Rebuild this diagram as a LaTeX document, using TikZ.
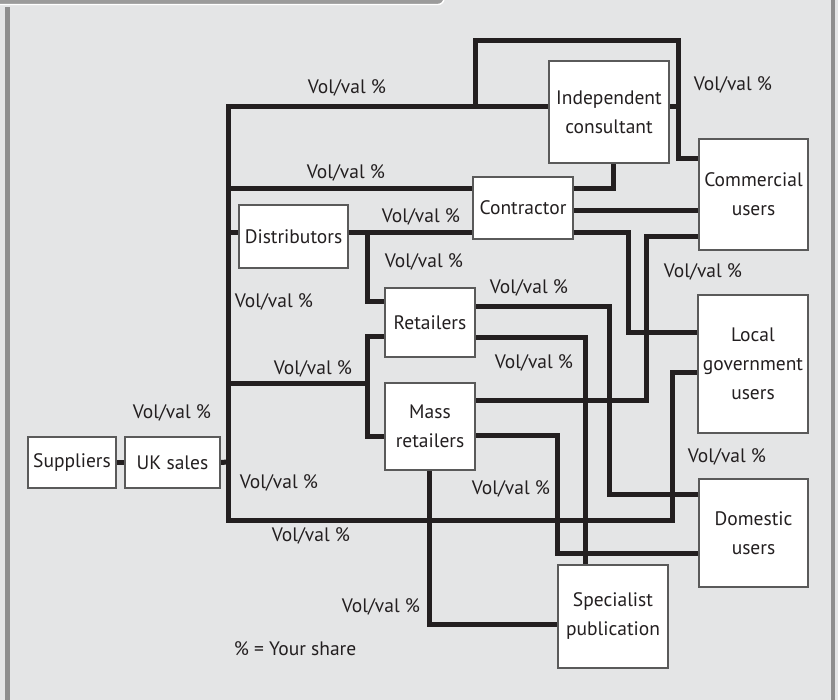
\documentclass[tikz,border=0pt]{standalone}
\usepackage{fontspec}
\setmainfont{PT Sans}
\usetikzlibrary{backgrounds}
\pgfdeclarelayer{back}
\pgfdeclarelayer{wires}
\pgfsetlayers{back,wires,main}
\definecolor{panel}{HTML}{E4E5E6}
\definecolor{rim}{HTML}{8E8E8E}
\definecolor{tabgray}{HTML}{9B9B9B}
\definecolor{ink}{HTML}{231F20}
\definecolor{boxline}{HTML}{5A5A5A}
\tikzset{
  unit/.style={draw=boxline, line width=1.1pt, fill=white, inner sep=0pt,
    align=center, font=\fontsize{19.5}{29}\selectfont, text=ink},
  wire/.style={draw=ink, line width=5pt, line join=miter},
  share/.style={font=\fontsize{19.5}{22}\selectfont, text=ink, inner sep=0pt}
}
\begin{document}
\begin{tikzpicture}[x=1pt,y=-1pt]
\useasboundingbox (0,0) rectangle (838,700);
% panel and frame
\begin{pgfonlayer}{back}
  \fill[panel] (0,0) rectangle (838,700);
  \fill[rim] (5,7) rectangle (10,700);
  \fill[rim] (831,0) rectangle (835,700);
  \draw[white, line width=1.4pt, fill=tabgray, rounded corners=6pt] (-10,-10) rectangle (444,4.5);
\end{pgfonlayer}

% boxes
\node[unit, minimum width=88pt, minimum height=51pt] (sup) at (72,462.5) {Suppliers};
\node[unit, minimum width=95pt, minimum height=51pt] (uk) at (172.5,462.5) {UK sales};
\node[unit, minimum width=120pt, minimum height=102pt] (ind) at (609,112) {Independent\\consultant};
\node[unit, minimum width=100pt, minimum height=62pt] (con) at (523,208) {Contractor};
\node[unit, minimum width=109pt, minimum height=63pt] (dis) at (293.5,236.5) {Distributors};
\node[unit, minimum width=90pt, minimum height=69pt] (ret) at (430,322.5) {Retailers};
\node[unit, minimum width=90pt, minimum height=87pt] (mass) at (430,426.5) {Mass\\retailers};
\node[unit, minimum width=109pt, minimum height=111pt] (com) at (753.5,194.5) {Commercial\\users};
\node[unit, minimum width=110pt, minimum height=138pt] (loc) at (753,364) {Local\\government\\users};
\node[unit, minimum width=109pt, minimum height=108pt] (dom) at (753.5,533) {Domestic\\users};
\node[unit, minimum width=110pt, minimum height=103pt] (spec) at (613,616.5) {Specialist\\publication};

% junction points of the routing
\coordinate (tk) at (228,462);

\begin{pgfonlayer}{wires}
  \draw[wire] (sup.east) -- (uk.west);
  \draw[wire] (uk.east) -- (tk);
  % main trunk: consultant at top, local government at bottom
  \draw[wire] (ind.west |- 0,107) -- (tk |- 0,107) -- (tk |- 0,520) -- (672,520) -- (672,373) -- (loc.west |- 0,373);
  \draw[wire] (475,107) -- (475,41) -- (678,41) -- (678,159) -- (com.west |- 0,159);
  \draw[wire] (ind.east |- 0,107) -- (678,107);
  % contractor
  \draw[wire] (tk |- 0,189) -- (con.west |- 0,189);
  \draw[wire] (ind.south -| 613,0) -- (613,189) -- (con.east |- 0,189);
  \draw[wire] (con.east |- 0,211) -- (com.west |- 0,211);
  \draw[wire] (con.east |- 0,233) -- (628,233) -- (628,333) -- (loc.west |- 0,333);
  % distributors
  \draw[wire] (tk |- 0,233) -- (dis.west |- 0,233);
  \draw[wire] (dis.east |- 0,233) -- (con.west |- 0,233);
  \draw[wire] (367,233) -- (367,302) -- (ret.west |- 0,302);
  % retailers and mass retailers
  \draw[wire] (tk |- 0,384) -- (367,384);
  \draw[wire] (ret.west |- 0,337) -- (367,337) -- (367,436) -- (mass.west |- 0,436);
  \draw[wire] (ret.east |- 0,307) -- (609,307) -- (609,494) -- (dom.west |- 0,494);
  \draw[wire] (ret.east |- 0,338) -- (585,338) -- (spec.north -| 585,0);
  \draw[wire] (mass.east |- 0,401) -- (646,401) -- (646,237) -- (com.west |- 0,237);
  \draw[wire] (mass.east |- 0,435) -- (557,435) -- (557,553) -- (dom.west |- 0,553);
  \draw[wire] (mass.south -| 429,0) -- (429,624) -- (spec.west |- 0,624);
\end{pgfonlayer}

% share labels
\node[share] (l1) at (347,88) {Vol/val \%};
\node[share] (l2) at (733,85) {Vol/val \%};
\node[share] (l3) at (346,173) {Vol/val \%};
\node[share] (l4) at (421,217) {Vol/val \%};
\node[share] (l5) at (424,262) {Vol/val \%};
\node[share] (l6) at (529,288) {Vol/val \%};
\node[share] (l7) at (274,302) {Vol/val \%};
\node[share] (l8) at (703,272) {Vol/val \%};
\node[share] (l9) at (534,363) {Vol/val \%};
\node[share] (l10) at (313,369) {Vol/val \%};
\node[share] (l11) at (172,413) {Vol/val \%};
\node[share] (l12) at (727,457) {Vol/val \%};
\node[share] (l13) at (511,489) {Vol/val \%};
\node[share] (l14) at (279,483) {Vol/val \%};
\node[share] (l15) at (311,536) {Vol/val \%};
\node[share] (l16) at (381,607) {Vol/val \%};
\node[share] (key) at (295,649) {\% = Your share};
\end{tikzpicture}
\end{document}
